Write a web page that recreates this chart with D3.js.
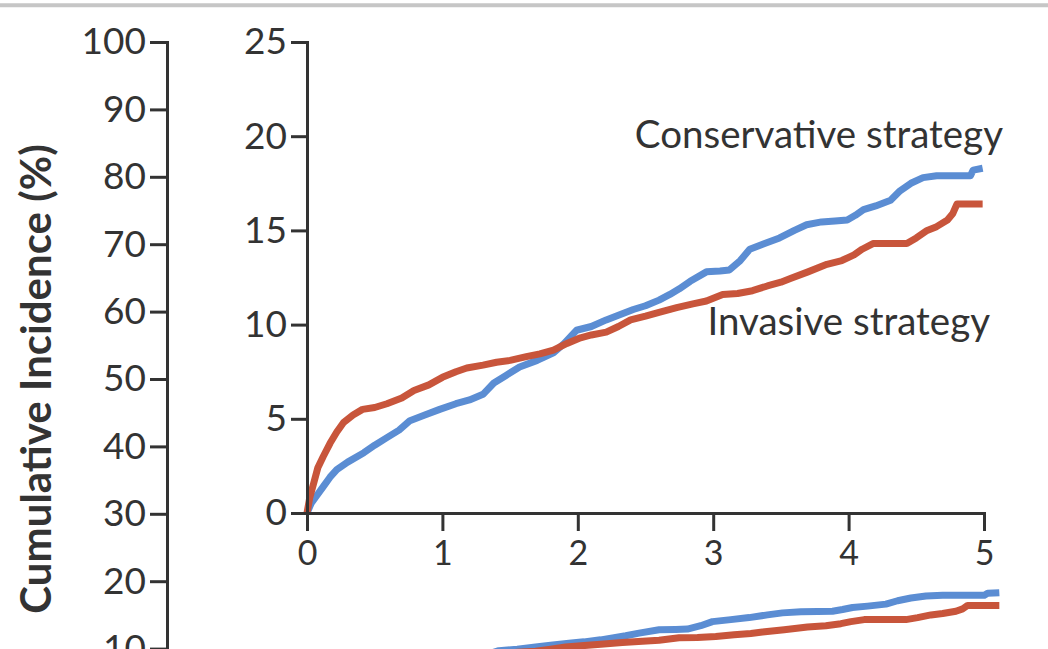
<!DOCTYPE html>
<html>
<head>
<meta charset="utf-8">
<script src="https://cdn.jsdelivr.net/npm/d3@7"></script>
<style>
  html, body { margin: 0; padding: 0; background: #fff; }
  svg { display: block; }
  text { font-family: Lato, "Open Sans", sans-serif; fill: #333; }
</style>
</head>
<body>
<svg id="chart" width="1048" height="649"></svg>
<script>
// ---- Data ----
const seriesNames = ["Conservative strategy", "Invasive strategy"];

const conservativeYears = [0, 0.03, 0.07, 0.12, 0.17, 0.22, 0.3, 0.42, 0.5, 0.59, 0.68, 0.76, 0.87, 0.98, 1.1, 1.2, 1.3, 1.38, 1.47, 1.57, 1.7, 1.82, 1.9, 1.99, 2.1, 2.21, 2.3, 2.41, 2.5, 2.6, 2.68, 2.75, 2.83, 2.95, 3.05, 3.12, 3.2, 3.27, 3.38, 3.49, 3.6, 3.69, 3.8, 3.9, 3.99, 4.05, 4.11, 4.2, 4.31, 4.38, 4.46, 4.55, 4.65, 4.8, 4.9, 4.92, 4.99];
const conservativeValues = [0, 0.5, 0.9, 1.4, 1.9, 2.3, 2.7, 3.2, 3.6, 4.0, 4.4, 4.9, 5.2, 5.5, 5.8, 6.0, 6.3, 6.9, 7.3, 7.75, 8.1, 8.5, 9.0, 9.7, 9.9, 10.25, 10.5, 10.8, 11.0, 11.3, 11.6, 11.9, 12.3, 12.8, 12.85, 12.9, 13.4, 14.0, 14.3, 14.6, 15.0, 15.3, 15.45, 15.5, 15.55, 15.8, 16.1, 16.3, 16.6, 17.1, 17.5, 17.8, 17.9, 17.9, 17.9, 18.2, 18.3];

const invasiveYears = [0, 0.02, 0.05, 0.08, 0.12, 0.17, 0.22, 0.27, 0.34, 0.41, 0.5, 0.59, 0.7, 0.79, 0.9, 1.0, 1.1, 1.18, 1.3, 1.4, 1.5, 1.62, 1.72, 1.82, 1.92, 2.02, 2.1, 2.21, 2.3, 2.39, 2.5, 2.6, 2.73, 2.85, 2.95, 3.07, 3.18, 3.29, 3.4, 3.5, 3.57, 3.7, 3.84, 3.95, 4.04, 4.1, 4.18, 4.3, 4.43, 4.5, 4.58, 4.65, 4.73, 4.77, 4.8, 4.9, 4.99];
const invasiveValues = [0, 0.8, 1.6, 2.4, 3.0, 3.7, 4.3, 4.8, 5.2, 5.5, 5.6, 5.8, 6.1, 6.5, 6.8, 7.2, 7.5, 7.7, 7.85, 8.0, 8.1, 8.3, 8.45, 8.65, 9.0, 9.3, 9.45, 9.6, 9.9, 10.25, 10.45, 10.65, 10.9, 11.1, 11.25, 11.6, 11.65, 11.8, 12.05, 12.25, 12.45, 12.8, 13.2, 13.4, 13.7, 14.0, 14.3, 14.3, 14.3, 14.6, 15.0, 15.2, 15.55, 15.9, 16.4, 16.4, 16.4];

const outerYTicks = [0, 10, 20, 30, 40, 50, 60, 70, 80, 90, 100];
const insetYTicks = [0, 5, 10, 15, 20, 25];
const insetXTicks = [0, 1, 2, 3, 4, 5];
const yAxisTitle = "Cumulative Incidence (%)";

// ---- Styling ----
const colors = { "Conservative strategy": "#5b8dd3", "Invasive strategy": "#c8553b" };
const axisColor = "#333";

const series = [
  { name: seriesNames[0], pts: conservativeYears.map((t, i) => [t, conservativeValues[i]]) },
  { name: seriesNames[1], pts: invasiveYears.map((t, i) => [t, invasiveValues[i]]) }
];

const svg = d3.select("#chart");

// top grey rule
svg.append("line").attr("x1", 0).attr("x2", 1048).attr("y1", 5.3).attr("y2", 5.3)
  .attr("stroke", "#c6c6c6").attr("stroke-width", 4);

// ---- Outer (main) chart ----
const outerX = d3.scaleLinear().domain([0, 5]).range([167, 1001]);
const outerY = d3.scaleLinear().domain([0, 100]).range([716, 42]);

const outerLine = d3.line().x(d => outerX(d[0])).y(d => outerY(d[1])).curve(d3.curveLinear);
const outerG = svg.append("g");
series.forEach(s => {
  outerG.append("path").datum(s.pts).attr("d", outerLine)
    .attr("fill", "none").attr("stroke", colors[s.name]).attr("stroke-width", 7)
    .attr("stroke-linejoin", "round");
});

const outerAxis = svg.append("g").attr("transform", `translate(${outerX.range()[0]},0)`)
  .call(d3.axisLeft(outerY).tickValues(outerYTicks).tickSize(17).tickSizeOuter(17).tickPadding(4));

// y title
svg.append("text")
  .attr("transform", `translate(51, ${(outerY(0) + outerY(100)) / 2}) rotate(-90)`)
  .attr("text-anchor", "middle")
  .attr("font-weight", "bold")
  .attr("font-size", 42)
  .text(yAxisTitle);

// ---- Inset chart ----
const inX = d3.scaleLinear().domain([0, 5]).range([307, 984]);
const inY = d3.scaleLinear().domain([0, 25]).range([513, 42]);

const inLine = d3.line().x(d => inX(d[0])).y(d => inY(d[1])).curve(d3.curveLinear);
const inG = svg.append("g");
series.forEach(s => {
  inG.append("path").datum(s.pts).attr("d", inLine)
    .attr("fill", "none").attr("stroke", colors[s.name]).attr("stroke-width", 7)
    .attr("stroke-linejoin", "round");
});

const inYAxis = svg.append("g").attr("transform", `translate(${inX(0)},0)`)
  .call(d3.axisLeft(inY).tickValues(insetYTicks).tickSize(16).tickSizeOuter(16).tickPadding(4));

const inXAxis = svg.append("g").attr("transform", `translate(0,${inY(0)})`)
  .call(d3.axisBottom(inX).tickValues(insetXTicks).tickFormat(d3.format("d"))
    .tickSize(18).tickSizeOuter(18).tickPadding(10));

[outerAxis, inYAxis, inXAxis].forEach(a => {
  a.selectAll("path.domain, .tick line").attr("stroke", axisColor).attr("stroke-width", 3);
  a.selectAll("text").attr("font-family", "Lato, sans-serif").attr("font-size", 37).attr("fill", "#333");
});
inXAxis.selectAll("text").attr("font-size", 34);

// series labels
svg.append("text").attr("x", 1003).attr("y", 148).attr("text-anchor", "end")
  .attr("font-size", 38.5).text(seriesNames[0]);
svg.append("text").attr("x", 990).attr("y", 335).attr("text-anchor", "end")
  .attr("font-size", 38.5).text(seriesNames[1]);
</script>
</body>
</html>
